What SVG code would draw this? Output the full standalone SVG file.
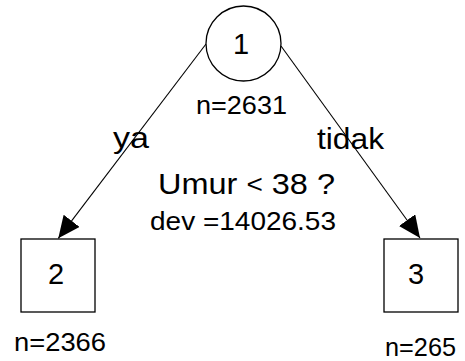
<svg xmlns="http://www.w3.org/2000/svg" width="465" height="361" viewBox="0 0 465 361">
  <style>
    text { font-family: "Liberation Sans", Arial, sans-serif; fill: #000; }
    .big { font-size: 29px; }
    .small { font-size: 25px; }
    .num { font-size: 29px; text-anchor: middle; }
    .node { fill: #fff; stroke: #000; stroke-width: 1.3; }
    .edge { fill: none; stroke: #000; stroke-width: 1.1; }
  </style>
  <defs>
    <marker id="arrow" markerUnits="userSpaceOnUse" markerWidth="24" markerHeight="22" refX="22" refY="10" orient="auto">
      <path d="M0,0 L22,10 L0,20 z" fill="#000"/>
    </marker>
  </defs>
  <rect width="465" height="361" fill="#fff"/>

  <!-- edges from the root split to the leaves -->
  <g id="connectors">
    <line class="edge" x1="206" y1="44" x2="58.3" y2="238.3" marker-end="url(#arrow)"/>
    <line class="edge" x1="281" y1="46" x2="420" y2="238" marker-end="url(#arrow)"/>
    <text class="big" x="113" y="148" textLength="36" lengthAdjust="spacingAndGlyphs">ya</text>
    <text class="big" x="317" y="149" textLength="67" lengthAdjust="spacingAndGlyphs">tidak</text>
  </g>

  <!-- root node with split rule -->
  <g id="node1">
    <circle class="node" cx="243.5" cy="43.5" r="37.5"/>
    <text class="num" x="241" y="53.5">1</text>
    <text class="small" x="196" y="114" textLength="91" lengthAdjust="spacingAndGlyphs">n=2631</text>
    <text class="big" x="158" y="194" textLength="177" lengthAdjust="spacingAndGlyphs">Umur <tspan font-size="25" dy="-1">&lt;</tspan><tspan dy="1"> 38 ?</tspan></text>
    <text class="small" x="150" y="230" textLength="186" lengthAdjust="spacingAndGlyphs">dev =14026.53</text>
  </g>

  <!-- left leaf -->
  <g id="node2">
    <rect class="node" x="21" y="239" width="74" height="73"/>
    <text class="num" x="56" y="284">2</text>
    <text class="small" x="14" y="351" textLength="92" lengthAdjust="spacingAndGlyphs">n=2366</text>
  </g>

  <!-- right leaf -->
  <g id="node3">
    <rect class="node" x="384" y="239" width="74" height="73"/>
    <text class="num" x="416" y="284">3</text>
    <text class="small" x="385" y="356" textLength="71" lengthAdjust="spacingAndGlyphs">n=265</text>
  </g>
</svg>
